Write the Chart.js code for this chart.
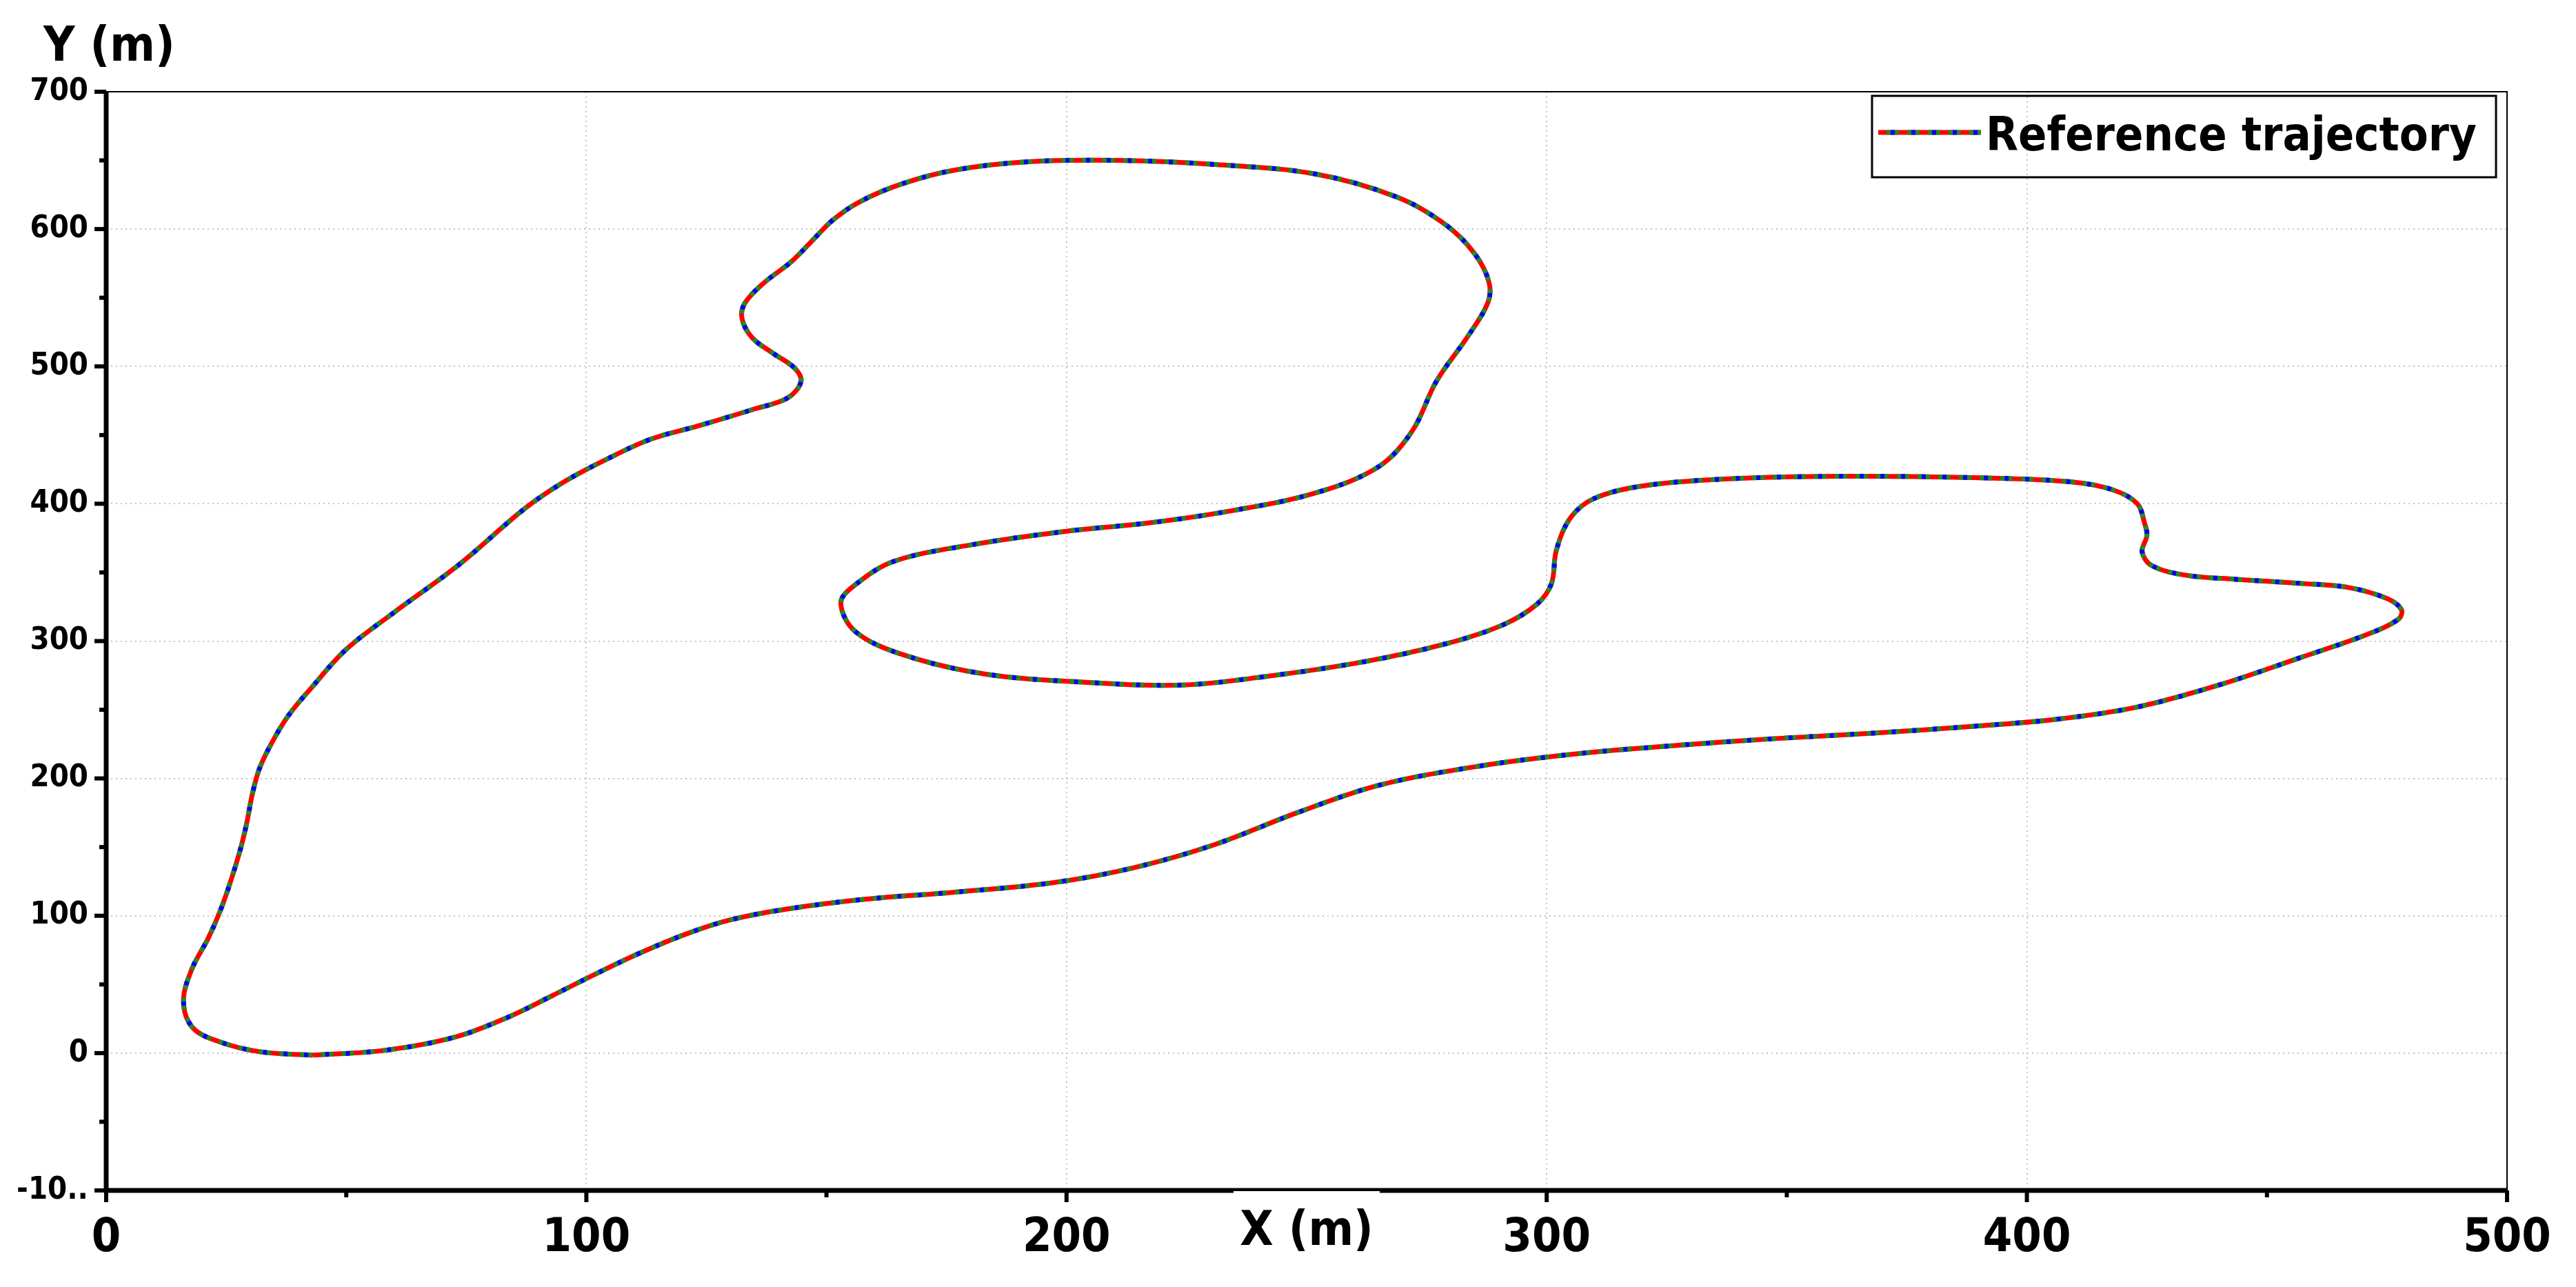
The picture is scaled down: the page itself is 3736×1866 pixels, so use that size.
<!DOCTYPE html>
<html>
<head>
<meta charset="utf-8">
<script src="https://cdn.jsdelivr.net/npm/chart.js@4/dist/chart.umd.min.js"></script>
<style>html,body{margin:0;padding:0;background:#fff}canvas{display:block}</style>
</head>
<body>
<canvas id="c" width="3736" height="1866"></canvas>
<script>
// Reference trajectory plot - Chart.js
(function(){
  // trajectory points (m), closed loop
  const trackX = [43,58,72.5,83.6,93,101,110.6,121,130,142,158,176,197,214,231,248,265,286,306.5,327,347.6,368,389,406,423,440,457,471,477.4,478,475,467,457,443.5,433,426,424,425,424.5,423,418,409,389,361,337,320,310,305,302,301,298,291,279,262,241,224,204,183,166,156,153,156,164,180,200,217,234.5,252,265,272,277,283.6,287.7,288,285,279,269,252,231,210.6,192,176.8,165.8,157,151.3,146.9,142.6,136.7,133,132.4,134.5,138.9,143.3,144.7,141.9,135,123.6,113.4,104,95.2,87,73.6,60,50,42.5,38,34.5,31.9,30.4,29.3,28,26,23.8,21.3,17.8,16.1,18,23.4,32,43];
  const trackY = [-1.5,2,11.5,26,42,56,72,87,97,105,112,117,124,135,152,175,195,209,218,224,229,233,238,243,252,268,288,305,316,323,331,339,342,345,348,355,365,377,386,400,410,416,419,420,418,413,404,390,366,342,327,312,298,285,274,268,270,276,290,307,328,341,358,370,380,386,395,408,427,453,489,522,546,561,582,603,623,640,647,650,649,643,633,620,606.5,591,576,560,546,535,521,509.5,499,489,477,469,457,447,432,415.6,396,356,321,294,265,246,226,207,188,168,149,126,104,84,60.8,37.7,18.6,8.5,1,-1.5];

  // axes
  const xTicks = [0,100,200,300,400,500];
  const xTickLabels = ['0','100','200','300','400','500'];
  const yTicks = [-100,0,100,200,300,400,500,600,700];
  const yTickLabels = ['-10..','0','100','200','300','400','500','600','700'];
  const seriesName = 'Reference trajectory';

  const FONT = "'DejaVu Sans Condensed', 'DejaVu Sans', sans-serif";
  const GRID = '#c4c4c4';

  // dash pattern along the line: red, green, blue, green
  const RED = 12, BLUE = 6, GAP = 6, PERIOD = RED + BLUE + 2*GAP;
  const strokes = [
    {color:'#ff0000', dash:[], offset:0},
    {color:'#0000ff', dash:[BLUE, PERIOD-BLUE], offset:PERIOD-(RED+GAP)},
    {color:'#228b22', dash:[GAP, BLUE, GAP, RED], offset:PERIOD-RED}
  ];

  const points = trackX.map((x,i)=>({x, y:trackY[i]}));

  const datasets = strokes.map((s,i)=>({
    label: seriesName, data: points, showLine:true, pointRadius:0, borderWidth:7,
    borderColor:s.color, borderDash:s.dash, borderDashOffset:s.offset,
    tension:0.35, fill:false, order:3-i
  }));

  function tickLabel(vals, labels){ return v=>{ const i = vals.indexOf(v); return i===-1 ? '' : labels[i]; }; }
  function gridColor(ctx, hi){ const v = ctx.tick.value; return (v%100===0 && v!==hi) ? GRID : 'rgba(0,0,0,0)'; }

  // axes lines, ticks, titles and legend drawn by hand
  const decor = {
    id:'decor',
    afterDraw(chart){
      const {ctx, chartArea:a, scales:{x,y}} = chart;
      ctx.save();
      ctx.strokeStyle='#000';
      ctx.lineWidth=2;
      ctx.beginPath(); ctx.moveTo(a.left,a.top); ctx.lineTo(a.right,a.top); ctx.lineTo(a.right,a.bottom); ctx.stroke();
      ctx.lineWidth=7;
      ctx.beginPath(); ctx.moveTo(a.left,a.top); ctx.lineTo(a.left,a.bottom); ctx.lineTo(a.right,a.bottom); ctx.stroke();
      // ticks, minor every 50
      ctx.lineWidth=6;
      for(let v=-100; v<=700; v+=50){
        const p = y.getPixelForValue(v), len = v%100===0 ? 14 : 7;
        ctx.beginPath(); ctx.moveTo(a.left-3-len,p); ctx.lineTo(a.left,p); ctx.stroke();
      }
      for(let v=0; v<=500; v+=50){
        const p = x.getPixelForValue(v), len = v%100===0 ? 14 : 7;
        ctx.beginPath(); ctx.moveTo(p,a.bottom); ctx.lineTo(p,a.bottom+3+len); ctx.stroke();
      }
      // titles
      ctx.fillStyle='#000';
      ctx.font = "bold 70px "+FONT;
      ctx.textAlign='left'; ctx.textBaseline='alphabetic';
      ctx.fillText('Y (m)', 63, 88);
      const cx = (a.left+a.right)/2;
      ctx.fillStyle='#fff'; ctx.fillRect(cx-106, a.bottom+1, 212, 110);
      ctx.fillStyle='#000'; ctx.textAlign='center';
      ctx.fillText('X (m)', cx, 1805);
      // legend
      ctx.lineWidth=3; ctx.strokeStyle='#000';
      ctx.strokeRect(2715,139,905,118);
      strokes.forEach(s=>{
        ctx.strokeStyle=s.color; ctx.lineWidth=7; ctx.setLineDash(s.dash); ctx.lineDashOffset=s.offset;
        ctx.beginPath(); ctx.moveTo(2724,192); ctx.lineTo(2873,192); ctx.stroke();
      });
      ctx.setLineDash([]);
      ctx.font = "bold 68px "+FONT; ctx.textAlign='left';
      ctx.fillText(seriesName, 2880, 218);
      ctx.restore();
    }
  };

  new Chart(document.getElementById('c'), {
    type:'scatter',
    data:{ datasets },
    plugins:[decor],
    options:{
      responsive:false, animation:false, devicePixelRatio:1,
      layout:{ padding:{ top:133, right:100, left:0, bottom:0 } },
      plugins:{ legend:{display:false}, tooltip:{enabled:false} },
      scales:{
        x:{
          type:'linear', min:0, max:500,
          afterFit(s){ s.height = 140; },
          ticks:{ stepSize:50, autoSkip:false, maxRotation:0, padding:30, color:'#000',
            font:{family:FONT, size:68, weight:'bold'}, callback:tickLabel(xTicks,xTickLabels) },
          grid:{ drawTicks:false, lineWidth:2, color:c=>gridColor(c,500) },
          border:{ display:false, dash:[2,5] }
        },
        y:{
          type:'linear', min:-100, max:700,
          afterFit(s){ s.width = 154; },
          ticks:{ stepSize:50, autoSkip:false, padding:26, color:'#000',
            font:{family:FONT, size:45, weight:'bold'}, callback:tickLabel(yTicks,yTickLabels) },
          grid:{ drawTicks:false, lineWidth:2, color:c=>gridColor(c,700) },
          border:{ display:false, dash:[2,5] }
        }
      }
    }
  });
})();
</script>
</body>
</html>
